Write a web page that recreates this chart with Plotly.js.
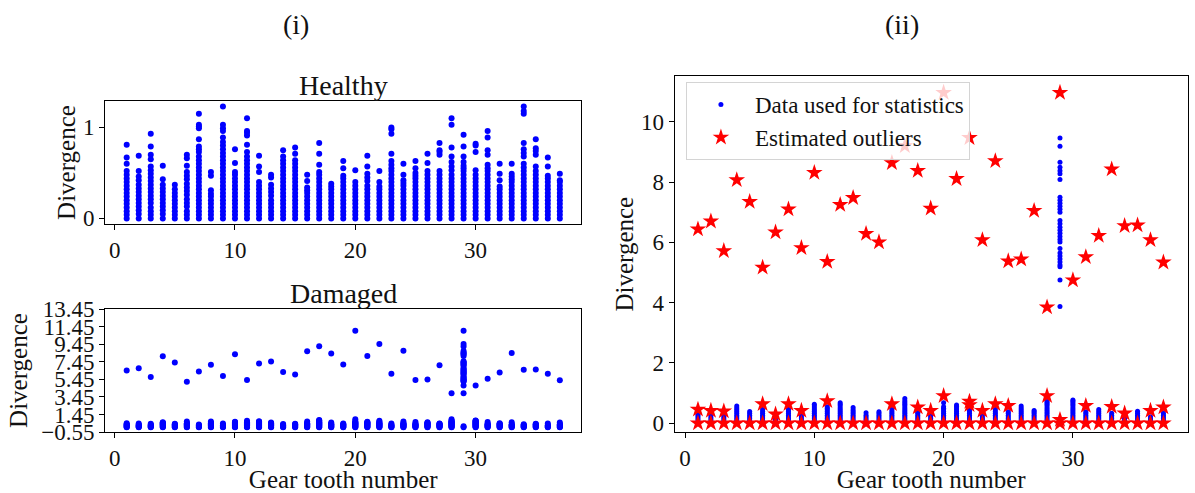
<!DOCTYPE html>
<html>
<head>
<meta charset="utf-8">
<script src="https://cdn.plot.ly/plotly-3.0.1.min.js"></script>
<style>
  html, body { margin: 0; padding: 0; background: #ffffff; }
  #chart { width: 1195px; height: 493px; }
</style>
</head>
<body>
<div id="chart"></div>
<script>
// Gear tooth numbers (x for every panel)
const teeth = [1,2,3,4,5,6,7,8,9,10,11,12,13,14,15,16,17,18,19,20,21,22,23,24,25,26,27,28,29,30,31,32,33,34,35,36,37];

// Healthy gear: divergence values recorded for each tooth
const healthy = [
  [0.00,0.04,0.08,0.12,0.16,0.20,0.24,0.28,0.32,0.36,0.40,0.44,0.48,0.52,0.60,0.67,0.81],
  [0.00,0.05,0.09,0.13,0.17,0.21,0.25,0.29,0.33,0.37,0.42,0.46,0.52,0.69],
  [0.00,0.04,0.08,0.12,0.17,0.21,0.25,0.29,0.33,0.37,0.41,0.45,0.49,0.53,0.57,0.65,0.70,0.79,0.93],
  [0.00,0.05,0.09,0.13,0.17,0.21,0.25,0.29,0.33,0.37,0.43,0.58],
  [0.00,0.04,0.08,0.12,0.16,0.20,0.24,0.28,0.32,0.37],
  [0.00,0.04,0.08,0.13,0.17,0.21,0.26,0.30,0.34,0.38,0.43,0.47,0.51,0.58,0.66,0.70],
  [0.00,0.04,0.08,0.12,0.16,0.20,0.24,0.28,0.32,0.36,0.40,0.44,0.48,0.52,0.56,0.60,0.64,0.68,0.73,0.76,0.79,0.87,0.99,1.01,1.03,1.15],
  [0.00,0.04,0.08,0.12,0.16,0.20,0.24,0.27,0.31,0.47,0.51],
  [0.00,0.04,0.08,0.12,0.16,0.20,0.24,0.28,0.32,0.36,0.40,0.44,0.48,0.52,0.56,0.60,0.64,0.68,0.72,0.76,0.80,0.84,0.89,0.96,0.99,1.03,1.23],
  [0.00,0.04,0.08,0.12,0.16,0.20,0.24,0.28,0.32,0.36,0.40,0.44,0.48,0.51,0.61,0.76],
  [0.00,0.04,0.08,0.12,0.16,0.20,0.24,0.28,0.32,0.36,0.40,0.44,0.48,0.52,0.56,0.60,0.64,0.68,0.73,0.81,0.91,0.94,0.96,1.10],
  [0.00,0.04,0.08,0.12,0.16,0.20,0.24,0.28,0.32,0.36,0.40,0.51,0.57,0.69],
  [0.00,0.04,0.08,0.12,0.16,0.20,0.25,0.29,0.33,0.37,0.45,0.48],
  [0.00,0.04,0.08,0.12,0.16,0.20,0.24,0.28,0.32,0.36,0.40,0.44,0.48,0.52,0.56,0.60,0.64,0.68,0.75],
  [0.00,0.04,0.08,0.12,0.16,0.20,0.24,0.28,0.32,0.36,0.40,0.44,0.48,0.52,0.56,0.60,0.64,0.71,0.78],
  [0.00,0.04,0.08,0.12,0.16,0.20,0.24,0.28,0.31,0.34,0.41,0.48],
  [0.00,0.04,0.08,0.12,0.16,0.20,0.24,0.28,0.32,0.36,0.40,0.44,0.48,0.51,0.59,0.71,0.83],
  [0.00,0.04,0.08,0.12,0.16,0.20,0.24,0.28,0.32,0.35,0.38],
  [0.00,0.04,0.08,0.12,0.16,0.20,0.24,0.28,0.32,0.36,0.40,0.44,0.47,0.55,0.63],
  [0.00,0.04,0.08,0.12,0.16,0.20,0.24,0.28,0.32,0.36,0.40,0.53],
  [0.00,0.04,0.08,0.12,0.16,0.20,0.24,0.28,0.32,0.36,0.41,0.45,0.49,0.57,0.69],
  [0.00,0.04,0.08,0.12,0.16,0.20,0.24,0.28,0.32,0.35,0.40,0.52],
  [0.00,0.04,0.08,0.12,0.16,0.20,0.24,0.28,0.32,0.36,0.40,0.44,0.48,0.52,0.55,0.59,0.63,0.71,0.93,0.98,1.00],
  [0.00,0.04,0.08,0.12,0.16,0.20,0.24,0.28,0.32,0.36,0.39,0.42,0.48,0.60],
  [0.00,0.04,0.08,0.12,0.16,0.20,0.24,0.28,0.32,0.36,0.40,0.44,0.47,0.50,0.55,0.63],
  [0.00,0.04,0.08,0.12,0.16,0.20,0.24,0.28,0.32,0.36,0.40,0.44,0.48,0.52,0.61,0.71],
  [0.00,0.04,0.08,0.12,0.16,0.20,0.24,0.28,0.32,0.36,0.40,0.44,0.48,0.52,0.70,0.73,0.75,0.83],
  [0.00,0.04,0.08,0.12,0.16,0.20,0.24,0.28,0.32,0.36,0.40,0.44,0.48,0.53,0.57,0.62,0.68,0.78,1.03,1.10],
  [0.00,0.04,0.08,0.12,0.16,0.20,0.24,0.28,0.32,0.36,0.40,0.44,0.48,0.52,0.55,0.58,0.62,0.68,0.79,0.92],
  [0.00,0.04,0.08,0.12,0.16,0.20,0.24,0.28,0.32,0.36,0.40,0.44,0.48,0.53,0.73,0.80,0.82],
  [0.00,0.04,0.08,0.12,0.16,0.20,0.24,0.28,0.32,0.36,0.40,0.44,0.48,0.52,0.55,0.59,0.70,0.75,0.89,0.96],
  [0.00,0.04,0.08,0.12,0.16,0.20,0.24,0.28,0.32,0.35,0.42,0.49,0.60],
  [0.00,0.04,0.08,0.12,0.16,0.20,0.24,0.28,0.32,0.36,0.40,0.43,0.46,0.49,0.60],
  [0.00,0.04,0.08,0.12,0.16,0.20,0.24,0.28,0.32,0.36,0.40,0.44,0.48,0.52,0.56,0.60,0.68,0.72,0.76,0.83,1.15,1.18,1.23],
  [0.00,0.04,0.08,0.12,0.16,0.20,0.24,0.28,0.32,0.36,0.40,0.44,0.48,0.52,0.57,0.70,0.74,0.77,0.87],
  [0.00,0.04,0.08,0.12,0.16,0.20,0.24,0.28,0.32,0.36,0.40,0.44,0.47,0.57,0.67],
  [0.00,0.04,0.08,0.12,0.16,0.20,0.24,0.28,0.32,0.36,0.40,0.42,0.49]
];

// Damaged gear: values kept for the statistics, per tooth
const damagedStats = [
  [0.03,0.09,0.15,0.21,0.27,0.33],
  [0.03,0.09,0.15,0.21,0.28],
  [0.03,0.09,0.15,0.21,0.28],
  [0.03,0.09,0.15,0.21,0.27,0.33,0.39,0.45,0.51,0.57],
  [0.03,0.09,0.15,0.21,0.27,0.33,0.39],
  [0.03,0.09,0.15,0.21,0.27,0.33,0.39,0.46],
  [0.03,0.09,0.15,0.22],
  [0.03,0.09,0.15,0.21,0.27,0.33,0.39,0.45,0.50],
  [0.03,0.09,0.15,0.21,0.28],
  [0.03,0.09,0.15,0.21,0.27,0.33,0.39,0.45,0.51,0.57,0.63],
  [0.03,0.09,0.15,0.21,0.27,0.33,0.39,0.45,0.50,0.55],
  [0.03,0.09,0.15,0.21,0.27,0.33,0.39,0.45,0.51,0.57,0.63,0.68],
  [0.03,0.09,0.15,0.21,0.27,0.33,0.39,0.45,0.52],
  [0.03,0.09,0.15,0.21,0.27,0.35],
  [0.03,0.09,0.15,0.21,0.27,0.33,0.38],
  [0.03,0.09,0.15,0.21,0.27,0.33,0.39,0.46],
  [0.03,0.09,0.15,0.21,0.27,0.33,0.39,0.45,0.51,0.57,0.63,0.69,0.75,0.82],
  [0.03,0.09,0.15,0.21,0.27,0.33,0.38],
  [0.03,0.09,0.15,0.21,0.27,0.33],
  [0.03,0.09,0.15,0.21,0.27,0.33,0.39,0.45,0.50,0.55,0.68],
  [0.03,0.09,0.15,0.21,0.27,0.33,0.39,0.45,0.51,0.56,0.61],
  [0.03,0.09,0.15,0.21,0.27,0.33,0.39,0.45,0.50],
  [0.03,0.09,0.15,0.21,0.28],
  [0.03,0.09,0.15,0.21,0.27,0.33,0.39,0.46],
  [0.03,0.09,0.15,0.21,0.27,0.33,0.38],
  [0.03,0.09,0.15,0.21,0.27,0.33,0.39,0.45,0.51,0.57],
  [0.03,0.09,0.15,0.21,0.27,0.33,0.38,0.42],
  [0.03,0.09,0.15,0.21,0.27,0.33,0.39,0.45,0.51,0.57,0.63,0.68,0.72],
  [3.87,4.75,5.19,5.25,5.35,5.45,5.55,5.65,5.80,6.01,6.10,6.20,6.30,6.40,6.50,6.62,6.73,7.00,7.10,7.20,7.30,7.40,7.50,8.09,8.28,8.38,8.49,8.66,9.19,9.46],
  [0.03,0.09,0.15,0.21,0.27,0.33,0.39,0.45,0.51,0.57,0.63,0.69,0.74,0.77],
  [0.03,0.09,0.15,0.21,0.27,0.33,0.38],
  [0.03,0.09,0.15,0.21,0.27,0.33,0.39,0.46],
  [0.03,0.09,0.15,0.21,0.27,0.33],
  [0.03,0.09,0.15,0.20,0.25],
  [0.03,0.09,0.15,0.21,0.27,0.33,0.40],
  [0.03,0.09,0.15,0.22],
  [0.03,0.09,0.15,0.21,0.27,0.33]
];

// Damaged gear: values flagged as outliers, per tooth
const damagedOutliers = [
  [0.00,0.46,6.44],
  [0.00,0.42,6.70],
  [0.00,0.40,5.72],
  [0.00,8.07],
  [0.00,7.35],
  [0.00,0.64,5.17],
  [0.00,0.30,6.34],
  [0.00,0.64,7.10],
  [0.00,0.42,5.82],
  [0.00,8.31],
  [0.00,0.74,5.36],
  [0.00,7.25],
  [0.00,7.48],
  [0.00,6.29],
  [0.00,6.01],
  [0.00,0.64,8.64],
  [0.00,9.20],
  [0.00,0.53,8.38],
  [0.00,0.42,7.13],
  [0.00,0.91,10.97],
  [0.00,8.11],
  [0.00,0.61,0.72,9.47],
  [0.00,0.42,6.08],
  [0.00,0.64,8.70],
  [0.00,0.58,5.38],
  [0.00,5.44],
  [0.00,7.05],
  [0.00,0.91,3.85],
  [0.00,0.12,10.97],
  [0.00,4.75],
  [0.00,0.58,5.52],
  [0.00,6.22],
  [0.00,0.55,8.43],
  [0.00,0.33,6.55],
  [0.00,6.57],
  [0.00,0.42,6.08],
  [0.00,0.53,5.34]
];

// Tick values/labels of the damaged panel's divergence axis
const damagedTickVals = [-0.55,1.45,3.45,5.45,7.45,9.45,11.45,13.45];
const damagedTickText = ['\u22120.55','1.45','3.45','5.45','7.45','9.45','11.45','13.45'];

function spread(groups) {
  const x = [], y = [];
  groups.forEach((vals, i) => vals.forEach(v => { x.push(teeth[i]); y.push(v); }));
  return { x, y };
}

const hPts = spread(healthy);
const sPts = spread(damagedStats);
const oPts = spread(damagedOutliers);
const allDamaged = spread(damagedStats.map((vals, i) => vals.concat(damagedOutliers[i])));

const FONT = 'Liberation Serif, Times New Roman, serif';
const BLUE = '#0000ff';
const RED = '#ff0000';

const traces = [
  { x: hPts.x, y: hPts.y, xaxis: 'x', yaxis: 'y', type: 'scatter', mode: 'markers',
    marker: { color: BLUE, size: 6 }, showlegend: false, hoverinfo: 'skip' },
  { x: allDamaged.x, y: allDamaged.y, xaxis: 'x2', yaxis: 'y2', type: 'scatter', mode: 'markers',
    marker: { color: BLUE, size: 6 }, showlegend: false, hoverinfo: 'skip' },
  { x: sPts.x, y: sPts.y, xaxis: 'x3', yaxis: 'y3', type: 'scatter', mode: 'markers',
    name: 'Data used for statistics', marker: { color: BLUE, size: 5 }, hoverinfo: 'skip' },
  { x: oPts.x, y: oPts.y, xaxis: 'x3', yaxis: 'y3', type: 'scatter', mode: 'markers',
    name: 'Estimated outliers', marker: { color: RED, size: 12.5, symbol: 'star' }, hoverinfo: 'skip' }
];

const axBase = {
  showline: true, mirror: true, linecolor: '#000', linewidth: 1,
  ticks: 'outside', ticklen: 5, tickwidth: 1, tickcolor: '#000',
  showgrid: false, zeroline: false, automargin: false,
  tickfont: { family: FONT, size: 23, color: '#111' }
};
const titleFont = { family: FONT, size: 25, color: '#111' };

const layout = {
  width: 1195, height: 493,
  margin: { l: 0, r: 0, t: 0, b: 0 },
  paper_bgcolor: '#fff', plot_bgcolor: '#fff',
  font: { family: FONT, color: '#111' },
  xaxis: Object.assign({}, axBase, { domain: [0.0879, 0.4866], range: [-0.8, 38.8], tickvals: [0,10,20,30], anchor: 'y' }),
  yaxis: Object.assign({}, axBase, { domain: [0.5456, 0.7951], range: [-0.0615, 1.29], tickvals: [0,1], anchor: 'x',
    title: { text: 'Divergence', font: titleFont, standoff: 0 } }),
  xaxis2: Object.assign({}, axBase, { domain: [0.0879, 0.4866], range: [-0.8, 38.8], tickvals: [0,10,20,30], anchor: 'y2',
    title: { text: 'Gear tooth number', font: titleFont, standoff: 0 } }),
  yaxis2: Object.assign({}, axBase, { domain: [0.1237, 0.3732], range: [-0.55, 13.45],
    tickvals: damagedTickVals, ticktext: damagedTickText, anchor: 'x2',
    title: { text: 'Divergence', font: titleFont, standoff: 6 } }),
  xaxis3: Object.assign({}, axBase, { domain: [0.5646, 0.9939], range: [-0.8, 38.88], tickvals: [0,10,20,30], anchor: 'y3',
    title: { text: 'Gear tooth number', font: titleFont, standoff: 0 } }),
  yaxis3: Object.assign({}, axBase, { domain: [0.1231, 0.8458], range: [-0.3, 11.52], tickvals: [0,2,4,6,8,10], anchor: 'x3',
    title: { text: 'Divergence', font: titleFont, standoff: 0 } }),
  legend: {
    x: 0.574, y: 0.8337, xanchor: 'left', yanchor: 'top',
    bgcolor: 'rgba(255,255,255,0.8)', bordercolor: '#d4d4d4', borderwidth: 1,
    font: { family: FONT, size: 23, color: '#111' }, itemwidth: 58
  },
  annotations: [
    { text: '(i)', x: 296, y: 25 },
    { text: '(ii)', x: 902, y: 25 },
    { text: 'Healthy', x: 343, y: 85 },
    { text: 'Damaged', x: 343, y: 293 }
  ].map(a => ({
    text: a.text, xref: 'paper', yref: 'paper', x: a.x / 1195, y: 1 - a.y / 493,
    xanchor: 'center', yanchor: 'middle', showarrow: false,
    font: { family: FONT, size: 28, color: '#111' }
  }))
};

Plotly.newPlot('chart', traces, layout, { displayModeBar: false, staticPlot: true });
</script>
</body>
</html>
